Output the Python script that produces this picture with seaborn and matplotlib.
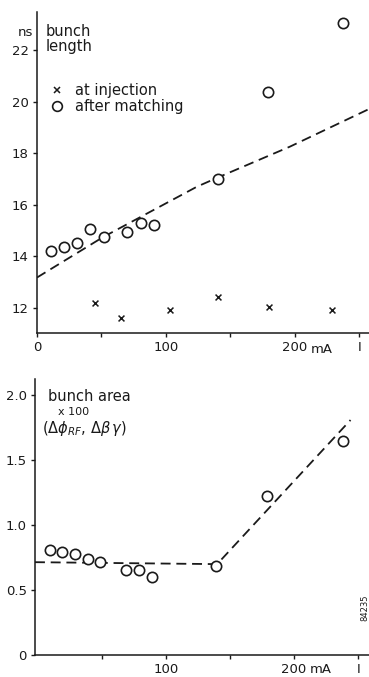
import numpy as np
import pandas as pd
import seaborn as sns
import matplotlib.pyplot as plt
from matplotlib.lines import Line2D

# top panel: bunch length (ns) vs current I (mA)
inj_I = [45, 65, 103, 140, 180, 229]
inj_len = [12.2, 11.62, 11.92, 12.44, 12.03, 11.92]

match_I = [11, 21, 31, 41, 52, 70, 81, 91, 140, 179, 237]
match_len = [14.22, 14.35, 14.5, 15.05, 14.74, 14.96, 15.28, 15.23, 17.01, 20.38, 23.03]

fit_I = [0, 51, 124, 139, 196, 257]
fit_len = [13.18, 14.74, 16.70, 17.03, 18.25, 19.70]

# bottom panel: bunch area x100
area_I = [10, 19, 29, 39, 49, 69, 79, 89, 139, 179, 238]
area_val = [0.81, 0.797, 0.78, 0.738, 0.717, 0.658, 0.658, 0.60, 0.686, 1.228, 1.652]

area_fit_I = [-2, 140, 244]
area_fit_val = [0.715, 0.70, 1.81]

sns.set_style('white')
plt.rcParams['font.family'] = ['DejaVu Sans']
ink = '#1a1a1a'

fig = plt.figure(figsize=(3.69, 6.77), dpi=100)
W, H = 369, 677
ax1 = fig.add_axes([37 / W, 1 - 333 / H, (W - 37) / W, (333 - 12) / H])
ax2 = fig.add_axes([35 / W, 1 - 655 / H, (W - 35) / W, (655 - 379) / H])

top = pd.DataFrame({'I': match_I, 'len': match_len})
inj = pd.DataFrame({'I': inj_I, 'len': inj_len})
fit = pd.DataFrame({'I': fit_I, 'len': fit_len})

sns.lineplot(data=fit, x='I', y='len', ax=ax1, color=ink, lw=1.3)
ax1.lines[0].set_dashes([5.5, 3.2])
sns.scatterplot(data=top, x='I', y='len', ax=ax1, marker='o', s=55,
                facecolor='white', edgecolor=ink, linewidth=1.2, zorder=3)
sns.scatterplot(data=inj, x='I', y='len', ax=ax1, marker='x', s=18,
                color=ink, linewidth=1.1, zorder=3)

ax1.set_xlim(0, 257.4)
ax1.set_ylim(11.03, 23.47)
ax1.set_yticks([12, 14, 16, 18, 20, 22])
ax1.set_xticks([0, 50, 100, 150, 200, 250])
ax1.set_xticklabels(['0', '', '100', '', '200', 'I'])
ax1.text(212, -0.03, 'mA', transform=ax1.get_xaxis_transform(),
         ha='left', va='top', fontsize=9.5, color=ink)
ax1.text(-0.012, 0.935, 'ns', transform=ax1.transAxes, ha='right', va='center',
         fontsize=9.5, color=ink)
ax1.text(0.025, 0.962, 'bunch\nlength', transform=ax1.transAxes, ha='left',
         va='top', fontsize=10.5, color=ink, linespacing=1.0)

handles = [Line2D([], [], marker='x', ls='none', color=ink, ms=4.5, mew=1.1),
           Line2D([], [], marker='o', ls='none', mfc='white', mec=ink, ms=7, mew=1.2)]
ax1.legend(handles, ['at injection', 'after matching'], loc='upper left',
           bbox_to_anchor=(0.0, 0.82), frameon=False, fontsize=10.5,
           handletextpad=0.7, labelspacing=0.1, handlelength=1.0,
           labelcolor=ink)

area = pd.DataFrame({'I': area_I, 'a': area_val})
afit = pd.DataFrame({'I': area_fit_I, 'a': area_fit_val})
sns.lineplot(data=afit, x='I', y='a', ax=ax2, color=ink, lw=1.3)
ax2.lines[0].set_dashes([5.5, 3.2])
sns.scatterplot(data=area, x='I', y='a', ax=ax2, marker='o', s=55,
                facecolor='white', edgecolor=ink, linewidth=1.2, zorder=3)

ax2.set_xlim(-2, 258.4)
ax2.set_ylim(0, 2.126)
ax2.set_yticks([0, 0.5, 1.0, 1.5, 2.0])
ax2.set_yticklabels(['0', '0.5', '1.0', '1.5', '2.0'])
ax2.set_xticks([50, 100, 150, 200, 250])
ax2.set_xticklabels(['', '100', '', '200', 'I'])
ax2.text(212, -0.03, 'mA', transform=ax2.get_xaxis_transform(),
         ha='left', va='top', fontsize=9.5, color=ink)
ax2.text(0.04, 0.935, 'bunch area', transform=ax2.transAxes, ha='left',
         va='center', fontsize=10.5, color=ink)
ax2.text(0.068, 0.88, 'x 100', transform=ax2.transAxes, ha='left',
         va='center', fontsize=8, color=ink)
ax2.text(0.02, 0.82, r'($\Delta\phi_{RF}$, $\Delta\beta\,\gamma$)',
         transform=ax2.transAxes, ha='left', va='center', fontsize=10.5, color=ink)
ax2.text(0.987, 0.17, '84235', transform=ax2.transAxes, rotation=90,
         ha='center', va='center', fontsize=6, color=ink)

for ax in (ax1, ax2):
    ax.set_xlabel('')
    ax.set_ylabel('')
    sns.despine(ax=ax)
    ax.spines['left'].set_color(ink)
    ax.spines['bottom'].set_color(ink)
    ax.spines['left'].set_linewidth(1.1)
    ax.spines['bottom'].set_linewidth(1.1)
    ax.tick_params(axis='both', direction='out', length=3, width=1,
                   color=ink, labelcolor=ink, labelsize=9.5, pad=3,
                   left=True, bottom=True)

fig.savefig('out.png', dpi=100)
